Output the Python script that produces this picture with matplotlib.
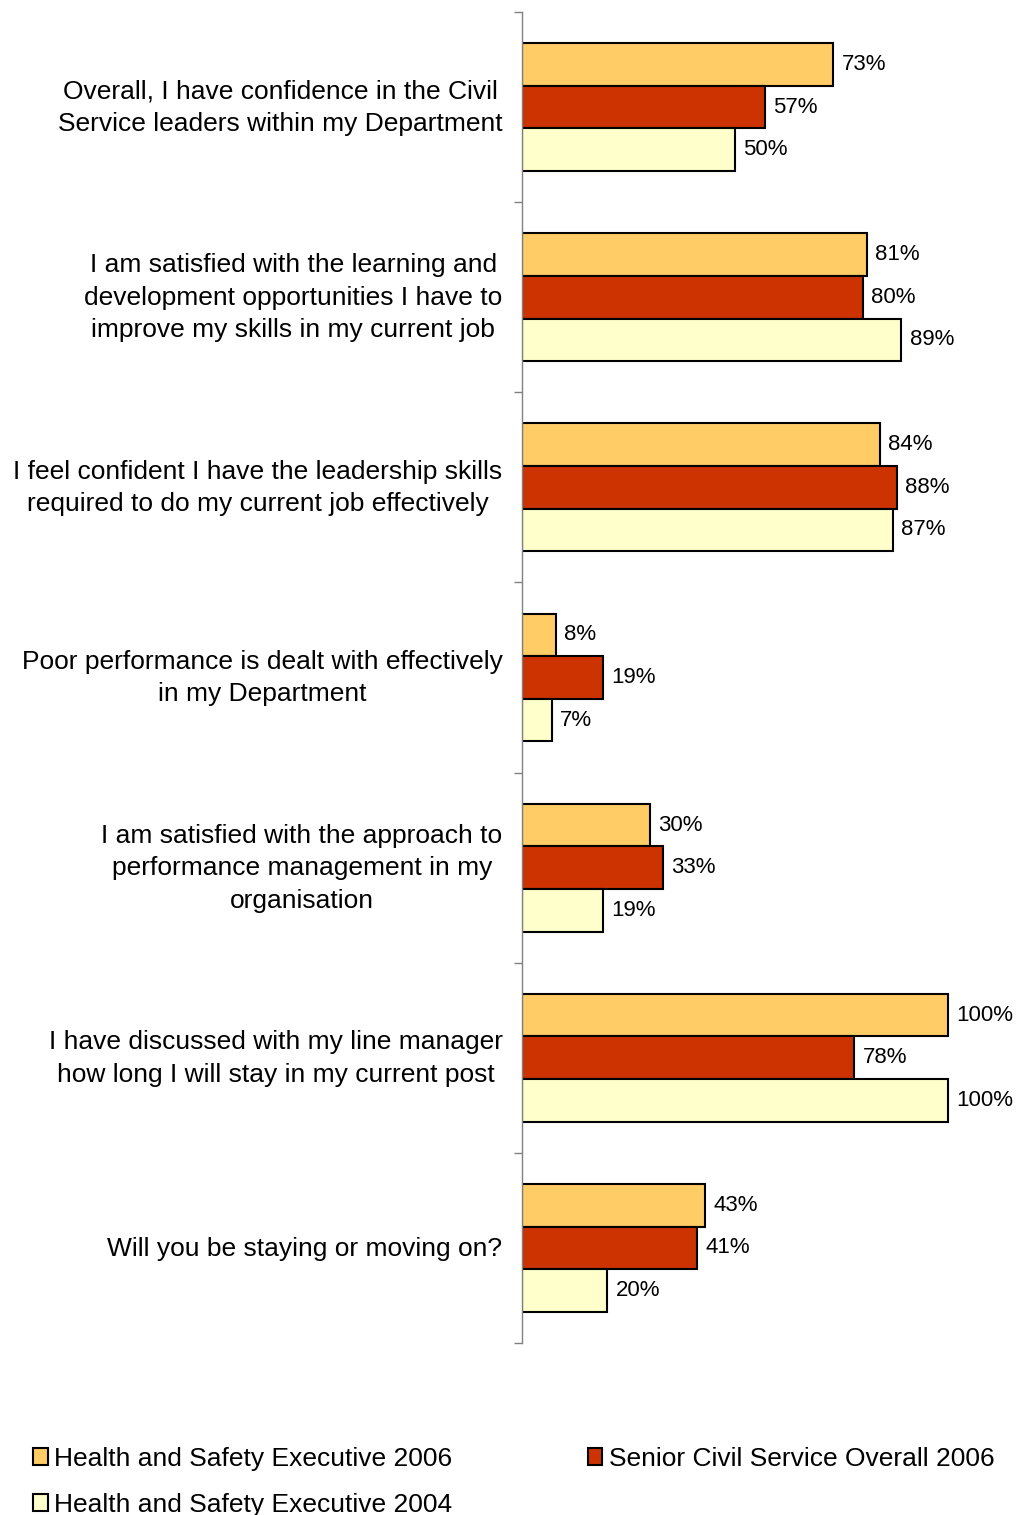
import matplotlib.pyplot as plt
import numpy as np

questions = [
    "Overall, I have confidence in the Civil\nService leaders within my Department",
    "I am satisfied with the learning and\ndevelopment opportunities I have to\nimprove my skills in my current job",
    "I feel confident I have the leadership skills\nrequired to do my current job effectively",
    "Poor performance is dealt with effectively\nin my Department",
    "I am satisfied with the approach to\nperformance management in my\norganisation",
    "I have discussed with my line manager\nhow long I will stay in my current post",
    "Will you be staying or moving on?",
]
hse_2006 = [73, 81, 84, 8, 30, 100, 43]
scs_2006 = [57, 80, 88, 19, 33, 78, 41]
hse_2004 = [50, 89, 87, 7, 19, 100, 20]

series = [
    ("Health and Safety Executive 2006", hse_2006, "#FFCC66"),
    ("Senior Civil Service Overall 2006", scs_2006, "#CC3300"),
    ("Health and Safety Executive 2004", hse_2004, "#FFFFCC"),
]

plt.rcParams['font.family'] = ['Liberation Sans', 'DejaVu Sans']

W, H = 1018, 1515
fig = plt.figure(figsize=(W / 100, H / 100), dpi=100)
ax = fig.add_axes([522 / W, 1 - 1343 / H, (W - 522) / W, (1343 - 12) / H])

n = len(questions)
centers = np.arange(n) + 0.5
bh = 0.224
handles = {}
for k, (name, vals, color) in enumerate(series):
    ys = centers + (k - 1) * bh
    bars = ax.barh(ys, vals, height=bh, color=color, edgecolor="black",
                   linewidth=1.5, label=name)
    handles[name] = bars
    for y, v in zip(ys, vals):
        ax.annotate(f"{v}%", (v, y), xytext=(6, 0), textcoords="offset points",
                    ha="left", va="center", fontsize=16, color="black")

ax.set_xlim(0, 116.4)
ax.set_ylim(n, 0)
for s in ["top", "right", "bottom"]:
    ax.spines[s].set_visible(False)
ax.spines["left"].set_color("#808080")
ax.spines["left"].set_linewidth(1)
ax.set_xticks([])
ax.set_yticks(np.arange(n + 1))
ax.set_yticklabels([])
ax.tick_params(axis="y", length=6, width=1, color="#808080")

# question labels, centred lines, right edge next to the axis
for c, q in zip(centers, questions):
    ax.annotate(q, xy=(0, c), xycoords=("axes fraction", "data"),
                xytext=(-14, -0.5), textcoords="offset points", ha="right",
                va="center", multialignment="center", linespacing=1.45,
                fontsize=19, annotation_clip=False)

order = ["Health and Safety Executive 2006", "Health and Safety Executive 2004",
         "Senior Civil Service Overall 2006"]
leg = fig.legend([handles[o] for o in order], order, loc="upper left",
                 bbox_to_anchor=(33 / W, 1 - 1447 / H), ncol=2, frameon=False,
                 prop={"size": 19},
                 handlelength=0.55, handleheight=0.6, handletextpad=0.25,
                 columnspacing=5.13, labelspacing=0.83, borderpad=0, borderaxespad=0)

fig.savefig("out.png", dpi=100)
